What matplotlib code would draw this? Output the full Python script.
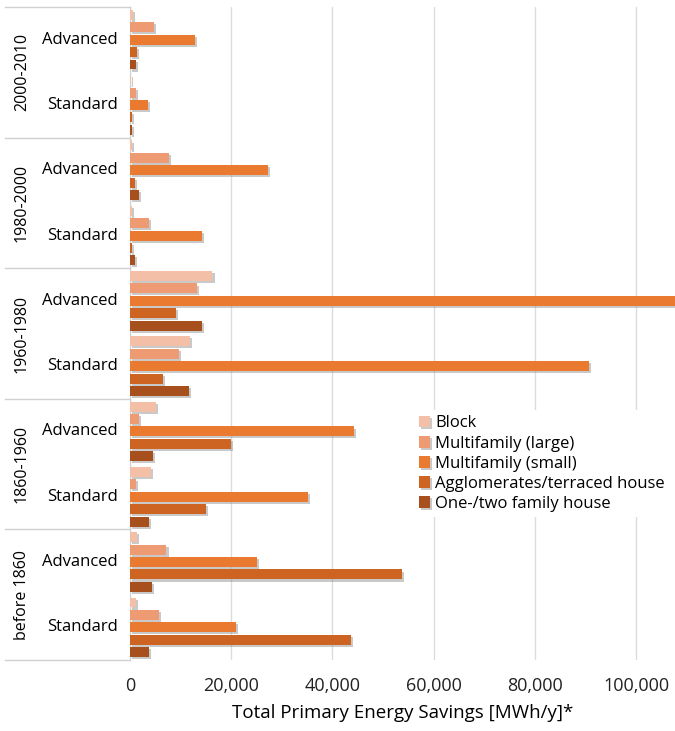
import numpy as np
import matplotlib.pyplot as plt
import matplotlib.patheffects as pe
from matplotlib.ticker import FuncFormatter

plt.rcParams['font.family'] = ['Open Sans', 'DejaVu Sans']

# Daten (von oben nach unten)
periods = ['2000-2010', '1980-2000', '1960-1980', '1860-1960', 'before 1860']
levels = ['Advanced', 'Standard']

series = ['Block', 'Multifamily (large)', 'Multifamily (small)',
          'Agglomerates/terraced house', 'One-/two family house']
block = [500, 200, 400, 300, 16300, 11900, 5100, 4100, 1400, 1200]
multi_large = [4700, 1100, 7700, 3800, 13200, 9700, 1700, 1100, 7200, 5700]
multi_small = [12800, 3500, 27300, 14200, 112000, 90700, 44300, 35200, 25100, 20900]
agglomerates = [1300, 400, 1000, 300, 9000, 6600, 20000, 15000, 53800, 43600]
one_two = [1100, 300, 1800, 900, 14300, 11700, 4500, 3800, 4300, 3800]

colors = ['#F3BFA6', '#EE9A72', '#E97A2F', '#CE6422', '#A84F1E']
values = [block, multi_large, multi_small, agglomerates, one_two]

fig = plt.figure(figsize=(6.75, 7.31), dpi=100)
ax = fig.add_axes([130 / 675, 1 - 660 / 731, 545 / 675, 653 / 731])

n_cat = len(periods) * len(levels)
centers = np.arange(n_cat) + 0.5
slot = 0.19
shadow = [pe.SimplePatchShadow(offset=(1.5, -1.5), shadow_rgbFace='#888888', alpha=0.45),
          pe.Normal()]
for k, (name, vals, col) in enumerate(zip(series, values, colors)):
    y = centers - 2 * slot + k * slot
    bars = ax.barh(y, vals, height=slot * 0.8, color=col, label=name, zorder=3)
    for b in bars:
        b.set_path_effects(shadow)

ax.set_ylim(n_cat, 0)
ax.set_xlim(0, 107700)
ax.set_xticks(np.arange(0, 100001, 20000))
ax.xaxis.set_major_formatter(FuncFormatter(lambda v, p: f'{int(v):,}'))
ax.tick_params(axis='x', length=0, labelsize=13, pad=12, colors='#222222')
ax.set_yticks([])
ax.grid(axis='x', color='#dcdcdc', linewidth=1)
ax.set_axisbelow(True)
for s in ['top', 'right', 'bottom']:
    ax.spines[s].set_visible(False)
ax.spines['left'].set_color('#d0d0d0')

ax.set_xlabel('Total Primary Energy Savings [MWh/y]*', fontsize=13.5, labelpad=7)

# Beschriftung links (zweistufig)
trans = ax.get_yaxis_transform()
x0 = -125 / 545
for i, per in enumerate(periods):
    for j, lev in enumerate(levels):
        ax.text(-12 / 545, 2 * i + j + 0.5, lev, transform=trans, ha='right',
                va='center', fontsize=12)
    ax.text(-108 / 545, 2 * i + 1, per, transform=trans, rotation=90,
            ha='center', va='center', fontsize=11.5)
for b in range(len(periods) + 1):
    ax.plot([x0, 0], [2 * b, 2 * b], transform=trans, color='#d0d0d0',
            linewidth=1, clip_on=False)

leg = ax.legend(loc='upper left', bbox_to_anchor=(0.505, 0.395), frameon=True,
                fontsize=12, handlelength=0.7, handleheight=0.7,
                handletextpad=0.3, labelspacing=0.25, borderpad=0.3)
leg.get_frame().set_edgecolor('none')
leg.get_frame().set_facecolor('white')
leg.get_frame().set_alpha(1)

fig.savefig('out.png', dpi=100)
